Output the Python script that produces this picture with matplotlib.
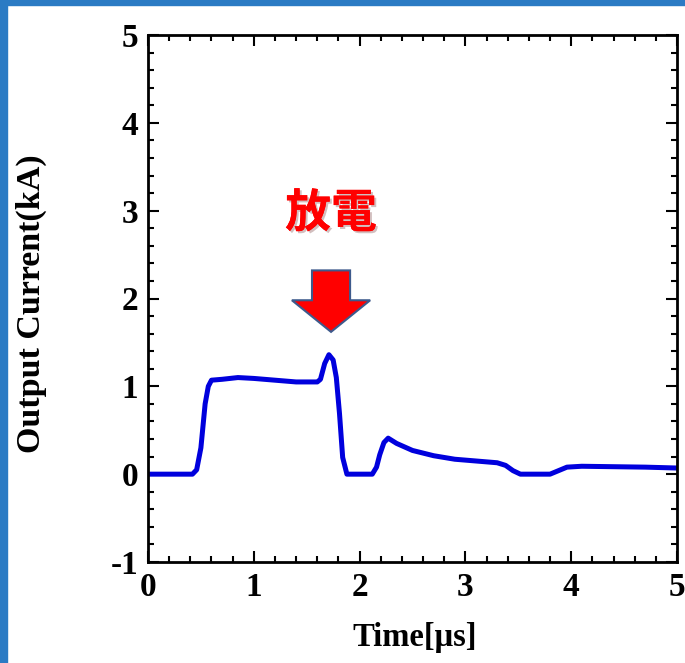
import matplotlib
matplotlib.use("Agg")
import matplotlib.pyplot as plt
from matplotlib.patches import Rectangle
from matplotlib.ticker import MultipleLocator
import matplotlib.patheffects as pe

plt.rcParams["axes.unicode_minus"] = False

# waveform (time in us, current in kA)
time_us = [0.0, 0.42, 0.46, 0.50, 0.54, 0.57, 0.60, 0.70, 0.85, 1.00, 1.20,
           1.40, 1.60, 1.63, 1.67, 1.71, 1.75, 1.78, 1.81, 1.84, 1.88, 1.95,
           2.12, 2.16, 2.19, 2.23, 2.27, 2.35, 2.50, 2.70, 2.90, 3.10, 3.30,
           3.38, 3.45, 3.52, 3.80, 3.88, 3.96, 4.10, 4.40, 4.70, 5.00]
current_ka = [0.0, 0.0, 0.05, 0.30, 0.80, 1.00, 1.07, 1.08, 1.10, 1.09, 1.07,
              1.05, 1.05, 1.08, 1.26, 1.36, 1.30, 1.10, 0.69, 0.19, 0.0, 0.0,
              0.0, 0.08, 0.22, 0.36, 0.41, 0.35, 0.27, 0.21, 0.17, 0.15, 0.13,
              0.10, 0.04, 0.0, 0.0, 0.04, 0.08, 0.09, 0.085, 0.08, 0.07]

x_ticks = [0, 1, 2, 3, 4, 5]
y_ticks = [-1, 0, 1, 2, 3, 4, 5]

serif = "Liberation Serif"

fig = plt.figure(figsize=(6.85, 6.63), dpi=100)
fig.patch.set_facecolor("white")

# slide frame (blue strips on the left and top)
frame_col = "#2b7bc4"
fig.patches.append(Rectangle((0, 0), 7 / 685, 1, transform=fig.transFigure,
                             color=frame_col, zorder=0))
fig.patches.append(Rectangle((0, 1 - 5 / 663), 1, 5 / 663, transform=fig.transFigure,
                             color=frame_col, zorder=0))

ax = fig.add_axes([148 / 685, 1 - 562 / 663, 529 / 685, 527 / 663])
ax.plot(time_us, current_ka, color="#0000dd", lw=3.6, solid_capstyle="round",
        solid_joinstyle="round")

ax.set_xlim(0, 5)
ax.set_ylim(-1, 5)
ax.set_xticks(x_ticks)
ax.set_yticks(y_ticks)
ax.xaxis.set_minor_locator(MultipleLocator(0.2))
ax.yaxis.set_minor_locator(MultipleLocator(0.2))
ax.tick_params(which="both", direction="in", top=True, right=True, width=1.5)
ax.tick_params(which="major", length=8, pad=7)
ax.tick_params(which="minor", length=4.5)
for s in ax.spines.values():
    s.set_linewidth(2)

for lab in ax.get_xticklabels() + ax.get_yticklabels():
    lab.set_fontfamily(serif)
    lab.set_fontweight("bold")
    lab.set_fontsize(24)

ax.set_xlabel("Time[μs]", fontfamily=serif, fontweight="bold", fontsize=23.5)
ax.set_ylabel("Output Current(kA)", fontfamily=serif, fontweight="bold",
              fontsize=24.5)
ax.xaxis.set_label_coords(0.505, -0.113)
ax.yaxis.set_label_coords(-0.19, 0.49)

# discharge marker
ax.arrow(1.73, 2.32, 0, -0.70, width=0.36, head_width=0.74, head_length=0.36,
         length_includes_head=True, facecolor="#ff0000", edgecolor="#3d5a8c",
         linewidth=1.5, zorder=5)
ax.text(1.73, 2.96, "放電", color="#ff0000", fontsize=33, fontweight="bold",
        family=["Noto Sans CJK JP", "DejaVu Sans"], ha="center", va="center",
        path_effects=[pe.withSimplePatchShadow(offset=(1.5, -1.5), alpha=0.25),
                      pe.Normal()])

fig.savefig("out.png", dpi=100)
